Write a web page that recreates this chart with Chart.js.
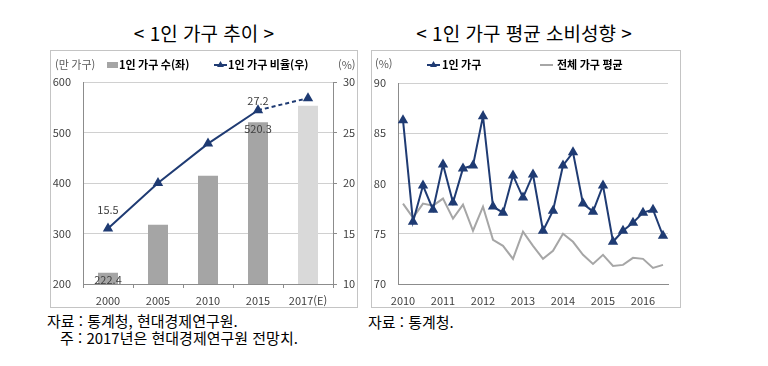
<!DOCTYPE html>
<html lang="ko">
<head>
<meta charset="utf-8">
<script src="https://cdn.jsdelivr.net/npm/chart.js@4.4.1/dist/chart.umd.min.js"></script>
<style>
  body { margin: 0; width: 768px; height: 366px; background: #fff; position: relative; overflow: hidden;
         font-family: 'Noto Sans CJK KR', 'Noto Sans', sans-serif; color: #000; }
  .title { position: absolute; top: 23px; font-size: 19px; line-height: 20px; white-space: nowrap; transform: translateX(-50%); }
  .box { position: absolute; top: 50px; height: 258px; border: 1px solid #c4c4c4; box-sizing: border-box; }
  canvas { position: absolute; top: 50px; }
  .note { position: absolute; font-size: 15px; line-height: 16px; white-space: nowrap; }
</style>
</head>
<body>
<div class="title" style="left:204px">&lt; 1인 가구 추이 &gt;</div>
<div class="title" style="left:524px">&lt; 1인 가구 평균 소비성향 &gt;</div>

<div class="box" style="left:50px; width:308px"></div>
<div class="box" style="left:371px; width:310px"></div>
<canvas id="householdChart" width="307" height="257" style="left:50px"></canvas>
<canvas id="propensityChart" width="309" height="257" style="left:371px"></canvas>

<div class="note" style="left:47px; top:313px">자료 : 통계청, 현대경제연구원.</div>
<div class="note" style="left:60px; top:330px">주 : 2017년은 현대경제연구원 전망치.</div>
<div class="note" style="left:368px; top:314px">자료 : 통계청.</div>

<script>
const FONT = "'Noto Sans CJK KR', 'Noto Sans', sans-serif";
const NAVY = '#1f3b73';
const GRAY_LINE = '#a6a6a6';
const GRID = '#d0d0d0';
const AXIS = '#8c8c8c';
const TICK_TEXT = '#404040';

// 1인 가구 추이
const years = ['2000', '2005', '2010', '2015', '2017(E)'];
const households = [222.4, 317.1, 414.2, 520.3, 553];   // 만 가구 (좌)
const shareRatio = [15.5, 20.0, 23.9, 27.2, 28.4];       // % (우)

// 1인 가구 평균 소비성향 (분기)
const quarters = [
  '2010 1Q', '2010 2Q', '2010 3Q', '2010 4Q',
  '2011 1Q', '2011 2Q', '2011 3Q', '2011 4Q',
  '2012 1Q', '2012 2Q', '2012 3Q', '2012 4Q',
  '2013 1Q', '2013 2Q', '2013 3Q', '2013 4Q',
  '2014 1Q', '2014 2Q', '2014 3Q', '2014 4Q',
  '2015 1Q', '2015 2Q', '2015 3Q', '2015 4Q',
  '2016 1Q', '2016 2Q', '2016 3Q'
];
const singleHousehold = [86.3, 76.2, 79.8, 77.4, 81.9, 78.1, 81.5, 81.8, 86.7, 77.7, 77.1, 80.8, 78.6, 80.9,
                         75.3, 77.3, 81.8, 83.1, 78.0, 77.2, 79.8, 74.2, 75.3, 76.1, 77.1, 77.4, 74.8];
const allHouseholds = [78.0, 76.6, 78.0, 77.8, 78.5, 76.5, 77.9, 75.3, 77.7, 74.4, 73.8, 72.5, 75.2, 73.8,
                       72.5, 73.3, 75.0, 74.2, 72.9, 72.0, 72.9, 71.8, 71.9, 72.6, 72.5, 71.6, 71.9];

// small helpers for the hand-drawn legend row
function triangle(ctx, x, y, r, color) {
  ctx.beginPath();
  ctx.moveTo(x, y - r);
  ctx.lineTo(x + r * 0.87, y + r * 0.5);
  ctx.lineTo(x - r * 0.87, y + r * 0.5);
  ctx.closePath();
  ctx.fillStyle = color;
  ctx.fill();
}
function legendLine(ctx, x0, x1, y, color, withMarker) {
  ctx.beginPath();
  ctx.moveTo(x0, y);
  ctx.lineTo(x1, y);
  ctx.strokeStyle = color;
  ctx.lineWidth = 2;
  ctx.stroke();
  if (withMarker) triangle(ctx, (x0 + x1) / 2, y, 4, color);
}

const householdHeader = {
  id: 'householdHeader',
  afterDraw(chart) {
    const ctx = chart.ctx;
    ctx.save();
    ctx.textBaseline = 'middle';
    ctx.font = '11px ' + FONT;
    ctx.fillStyle = '#595959';
    ctx.fillText('(만 가구)', 5, 15);
    ctx.fillText('(%)', 288, 15);
    ctx.fillStyle = '#a5a5a5';
    ctx.fillRect(57, 12, 11, 6);
    ctx.font = 'bold 11px ' + FONT;
    ctx.fillStyle = '#000';
    ctx.fillText('1인 가구 수(좌)', 69, 15);
    legendLine(ctx, 164, 177, 15, NAVY, true);
    ctx.fillStyle = '#000';
    ctx.fillText('1인 가구 비율(우)', 178, 15);

    // value labels
    ctx.font = '11px ' + FONT;
    ctx.fillStyle = TICK_TEXT;
    ctx.textAlign = 'center';
    const bars = chart.getDatasetMeta(0).data;
    [0, 3].forEach(i => ctx.fillText(households[i].toFixed(1), bars[i].x, bars[i].y + 7));
    const pts = chart.getDatasetMeta(1).data;
    ctx.fillText(shareRatio[0].toFixed(1), pts[0].x, pts[0].y - 19);
    ctx.fillText(shareRatio[3].toFixed(1), pts[3].x, pts[3].y - 9);
    ctx.restore();
  }
};

const propensityHeader = {
  id: 'propensityHeader',
  afterDraw(chart) {
    const ctx = chart.ctx;
    ctx.save();
    ctx.textBaseline = 'middle';
    ctx.font = '11px ' + FONT;
    ctx.fillStyle = '#595959';
    ctx.fillText('(%)', 4, 14);
    legendLine(ctx, 56, 69, 15, NAVY, true);
    legendLine(ctx, 169, 182, 15, GRAY_LINE, false);
    ctx.font = 'bold 11px ' + FONT;
    ctx.fillStyle = '#000';
    ctx.fillText('1인 가구', 71, 15);
    ctx.fillText('전체 가구 평균', 186, 15);
    ctx.restore();
  }
};

Chart.defaults.font.family = FONT;
Chart.defaults.font.size = 11;
Chart.defaults.color = TICK_TEXT;

new Chart(document.getElementById('householdChart'), {
  type: 'bar',
  data: {
    labels: years,
    datasets: [{
      type: 'bar',
      label: '1인 가구 수(좌)',
      data: households,
      backgroundColor: ctx => ctx.dataIndex === years.length - 1 ? '#d9d9d9' : '#a5a5a5',
      categoryPercentage: 0.4,
      barPercentage: 1,
      yAxisID: 'y',
      order: 2
    }, {
      type: 'line',
      label: '1인 가구 비율(우)',
      data: shareRatio,
      borderColor: NAVY,
      backgroundColor: NAVY,
      borderWidth: 2,
      pointStyle: 'triangle',
      pointRadius: 4,
      tension: 0,
      segment: { borderDash: ctx => ctx.p0DataIndex === 3 ? [4, 3] : undefined },
      yAxisID: 'y1',
      order: 1
    }]
  },
  options: {
    responsive: false,
    devicePixelRatio: 1,
    animation: false,
    layout: { padding: { top: 32, left: 0, right: 0, bottom: 0 } },
    plugins: { legend: { display: false }, tooltip: { enabled: false } },
    scales: {
      x: {
        grid: { display: true, offset: true, drawOnChartArea: false, drawTicks: true, tickLength: 4, color: AXIS },
        border: { display: true, color: AXIS },
        ticks: { padding: 6, maxRotation: 0 },
        afterFit: s => { s.height = 23; }
      },
      y: {
        position: 'left',
        min: 200, max: 600,
        ticks: { stepSize: 100, padding: 12 },
        grid: { color: GRID, drawTicks: false },
        border: { display: true, color: AXIS },
        afterFit: s => { s.width = 33; }
      },
      y1: {
        position: 'right',
        min: 10, max: 30,
        ticks: { stepSize: 5, padding: 6 },
        grid: { drawOnChartArea: false, drawTicks: true, tickLength: 4, color: AXIS },
        border: { display: true, color: AXIS },
        afterFit: s => { s.width = 24; }
      }
    }
  },
  plugins: [householdHeader]
});

new Chart(document.getElementById('propensityChart'), {
  type: 'line',
  data: {
    labels: quarters,
    datasets: [{
      label: '전체 가구 평균',
      data: allHouseholds,
      borderColor: GRAY_LINE,
      borderWidth: 2,
      pointRadius: 0,
      tension: 0,
      order: 2
    }, {
      label: '1인 가구',
      data: singleHousehold,
      borderColor: NAVY,
      backgroundColor: NAVY,
      borderWidth: 2,
      pointStyle: 'triangle',
      pointRadius: 4,
      tension: 0,
      order: 1
    }]
  },
  options: {
    responsive: false,
    devicePixelRatio: 1,
    animation: false,
    layout: { padding: { top: 33, left: 0, right: 12, bottom: 0 } },
    plugins: { legend: { display: false }, tooltip: { enabled: false } },
    scales: {
      x: {
        offset: true,
        grid: { display: false, drawTicks: false },
        border: { display: true, color: AXIS },
        ticks: {
          autoSkip: false, maxRotation: 0, minRotation: 0, padding: 10,
          callback: (v, i) => quarters[i].endsWith('1Q') ? quarters[i].slice(0, 4) : ''
        },
        afterFit: s => { s.height = 23; }
      },
      y: {
        min: 70, max: 90,
        ticks: { stepSize: 5, padding: 12 },
        grid: { color: GRID, drawTicks: false },
        border: { display: true, color: AXIS },
        afterFit: s => { s.width = 27; }
      }
    }
  },
  plugins: [propensityHeader]
});
</script>
</body>
</html>
